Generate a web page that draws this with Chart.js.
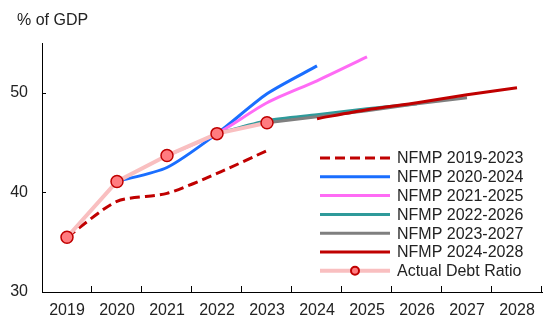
<!DOCTYPE html>
<html>
<head>
<meta charset="utf-8">
<script src="https://cdn.jsdelivr.net/npm/chart.js@4"></script>
<style>
  html, body { margin: 0; padding: 0; background: #fff; }
  #wrap { width: 543px; height: 320px; }
</style>
</head>
<body>
<div id="wrap"><canvas id="debtChart" width="543" height="320"></canvas></div>
<script>
// years on the x axis
const years = ['2019', '2020', '2021', '2022', '2023', '2024', '2025', '2026', '2027', '2028'];

// plan projections, % of GDP (null = not part of that plan)
const nfmp2019 = [35.5, 39.1, 39.9, 41.9, 44.2, null, null, null, null, null];
const nfmp2020 = [null, 41.1, 42.5, 45.9, 49.9, 52.7, null, null, null, null];
const nfmp2021 = [null, null, 43.7, 45.9, 49.0, 51.2, 53.6, null, null, null];
const nfmp2022 = [null, null, null, 45.9, 47.2, 47.8, 48.4, 48.9, null, null];
const nfmp2023 = [null, null, null, null, 47.0, 47.6, 48.2, 48.9, 49.5, null];
const nfmp2024 = [null, null, null, null, null, 47.4, 48.3, 49.0, 49.8, 50.5];
const actualDebt = [35.5, 41.1, 43.7, 45.9, 47.0, null, null, null, null, null];

const yTicks = [30, 40, 50];

const FONT = "'Liberation Sans', Arial, sans-serif";
const TEXT = '#222';

function planLine(label, data, color, order, dash) {
    return {
        label: label,
        data: data,
        borderColor: color,
        backgroundColor: color,
        borderWidth: 3,
        borderDash: dash || [],
        tension: 0.25,
        pointRadius: 0,
        fill: false,
        spanGaps: false,
        order: order
    };
}

const datasets = [
    planLine('NFMP 2019-2023', nfmp2019, '#C00000', 7, [10, 5]),
    planLine('NFMP 2020-2024', nfmp2020, '#1A6EFF', 6),
    planLine('NFMP 2021-2025', nfmp2021, '#FF6BF5', 5),
    planLine('NFMP 2022-2026', nfmp2022, '#2E9A9A', 4),
    planLine('NFMP 2023-2027', nfmp2023, '#7F7F7F', 3),
    planLine('NFMP 2024-2028', nfmp2024, '#C00000', 2),
    {
        label: 'Actual Debt Ratio',
        data: actualDebt,
        borderColor: '#F9BFC0',
        backgroundColor: '#FF7C80',
        borderWidth: 4,
        tension: 0,
        pointRadius: 6,
        pointBorderWidth: 1.5,
        pointBorderColor: '#C00000',
        pointBackgroundColor: '#FF7C80',
        fill: false,
        order: 1
    }
];

// title, inward tick marks and the legend box on the right
const decorPlugin = {
    id: 'decor',
    afterDraw(chart) {
        const ctx = chart.ctx;
        const area = chart.chartArea;
        const yScale = chart.scales.y;
        ctx.save();

        ctx.fillStyle = TEXT;
        ctx.font = '16px ' + FONT;
        ctx.textBaseline = 'alphabetic';
        ctx.textAlign = 'left';
        ctx.fillText('% of GDP', 17, 25);

        ctx.strokeStyle = '#000';
        ctx.lineWidth = 1;
        ctx.beginPath();
        const step = (area.right - area.left) / years.length;
        for (let i = 1; i <= years.length; i++) {
            const px = Math.round(area.left + i * step) - 0.5;
            ctx.moveTo(px, area.bottom);
            ctx.lineTo(px, area.bottom - 6);
        }
        yTicks.forEach(v => {
            const py = Math.round(yScale.getPixelForValue(v)) + 0.5;
            ctx.moveTo(area.left, py);
            ctx.lineTo(area.left + 4, py);
        });
        ctx.stroke();

        // legend
        const x0 = 320, x1 = 390, tx = 397;
        let rowY = 158;
        ctx.font = '16px ' + FONT;
        ctx.textBaseline = 'middle';
        chart.data.datasets.forEach(ds => {
            ctx.beginPath();
            ctx.strokeStyle = ds.borderColor;
            ctx.lineWidth = ds.borderWidth;
            ctx.setLineDash(ds.borderDash || []);
            ctx.moveTo(x0, rowY);
            ctx.lineTo(x1, rowY);
            ctx.stroke();
            ctx.setLineDash([]);
            if (ds.pointRadius) {
                ctx.beginPath();
                ctx.arc((x0 + x1) / 2, rowY, 4, 0, Math.PI * 2);
                ctx.fillStyle = ds.pointBackgroundColor;
                ctx.fill();
                ctx.lineWidth = 2;
                ctx.strokeStyle = ds.pointBorderColor;
                ctx.stroke();
            }
            ctx.fillStyle = TEXT;
            ctx.fillText(ds.label, tx, rowY + 1);
            rowY += 18.8;
        });
        ctx.restore();
    }
};

new Chart(document.getElementById('debtChart').getContext('2d'), {
    type: 'line',
    data: {
        labels: years,
        datasets: datasets
    },
    options: {
        responsive: false,
        animation: false,
        devicePixelRatio: 1,
        layout: {
            autoPadding: false,
            padding: { top: 43, right: 1, left: 0, bottom: 0 }
        },
        plugins: {
            legend: { display: false },
            tooltip: { enabled: false }
        },
        scales: {
            x: {
                type: 'category',
                offset: true,
                grid: { display: false, drawTicks: false, offset: true },
                border: { display: true, color: '#000', width: 1 },
                ticks: {
                    color: TEXT,
                    font: { family: FONT, size: 16 },
                    padding: 9,
                    maxRotation: 0,
                    autoSkip: false
                },
                afterFit(scale) {
                    scale.height = 28;
                    scale.paddingLeft = 0;
                    scale.paddingRight = 0;
                }
            },
            y: {
                min: 30,
                max: 55,
                grid: { display: false, drawTicks: false },
                border: { display: true, color: '#000', width: 1 },
                ticks: {
                    color: TEXT,
                    font: { family: FONT, size: 16 },
                    padding: 14
                },
                afterBuildTicks(scale) {
                    scale.ticks = yTicks.map(v => ({ value: v }));
                },
                afterFit(scale) {
                    scale.width = 42;
                    scale.paddingTop = 0;
                    scale.paddingBottom = 0;
                }
            }
        }
    },
    plugins: [decorPlugin]
});
</script>
</body>
</html>
